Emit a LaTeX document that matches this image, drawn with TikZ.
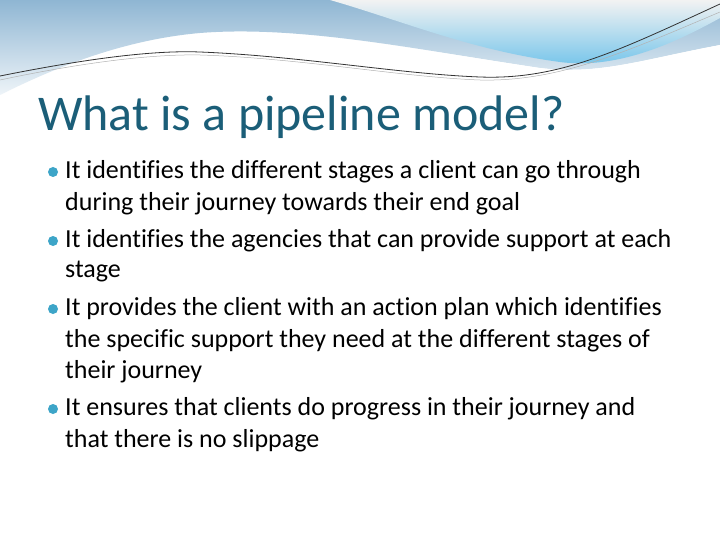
\documentclass[tikz,border=0pt]{standalone}
\usepackage{fontspec}
\setmainfont[Ligatures={NoCommon}]{Carlito}
\definecolor{titlec}{HTML}{1B5E78}
\definecolor{bul}{HTML}{3DA5C8}
\definecolor{band}{HTML}{8FB6D3}
\definecolor{lblue}{HTML}{6EC2EA}
\begin{document}
\begin{tikzpicture}[x=1pt,y=-1pt,
  txt/.style={anchor=west,inner sep=0pt,font=\fontsize{26}{30}\selectfont,text=black},
  dot/.style={circle,fill=bul,inner sep=0pt,minimum size=10pt}]
\useasboundingbox (0,0) rectangle (720,540);
\fill[white] (0,0) rectangle (720,540);
% header band
\shade[top color=band,bottom color=white!85!band] (0,0) -- (720,0) -- (720,45) .. controls (640,60) and (600,75) .. (540,68)
  .. controls (420,50) and (300,25) .. (200,33) .. controls (120,40) and (50,70) .. (0,95) -- cycle;
\shade[top color=white!90!gray,bottom color=lblue] (330,0) -- (720,0) -- (720,18) .. controls (680,40) and (620,70) .. (560,62) .. controls (470,50) and (400,20) .. (330,0);
\fill[white] (0,98) .. controls (60,70) and (130,40) .. (200,35) .. controls (300,28) and (420,50) .. (540,68) .. controls (600,75) and (640,60) .. (720,45) -- (720,540) -- (0,540) -- cycle;
\draw[black!80,line width=0.8pt] (0,76) .. controls (80,60) and (150,50) .. (200,52) .. controls (300,56) and (400,74) .. (480,77) .. controls (560,80) and (620,50) .. (720,4);
\draw[gray!60,line width=0.5pt] (0,80) .. controls (80,63) and (150,54) .. (200,55) .. controls (300,58) and (400,77) .. (480,80) .. controls (560,82) and (630,50) .. (720,12);
% title
\node[anchor=west,inner sep=0pt,text=titlec,font=\fontsize{50}{56}\selectfont] (title) at (38,117) {What is a pipeline model?};
% bullets
\node[dot] (b1) at (53,172) {}; \node[txt] (t1) at (65,172) {It identifies the different stages a client can go through};
\node[txt] (t1b) at (65,204) {during their journey towards their end goal};
\node[dot] (b2) at (53,241) {}; \node[txt] (t2) at (65,241) {It identifies the agencies that can provide support at each};
\node[txt] (t2b) at (65,272) {stage};
\node[dot] (b3) at (53,309) {}; \node[txt] (t3) at (65,309) {It provides the client with an action plan which identifies};
\node[txt] (t3b) at (65,341) {the specific support they need at the different stages of};
\node[txt] (t3c) at (65,372) {their journey};
\node[dot] (b4) at (53,409) {}; \node[txt] (t4) at (65,409) {It ensures that clients do progress in their journey and};
\node[txt] (t4b) at (65,441) {that there is no slippage};
\end{tikzpicture}
\end{document}
